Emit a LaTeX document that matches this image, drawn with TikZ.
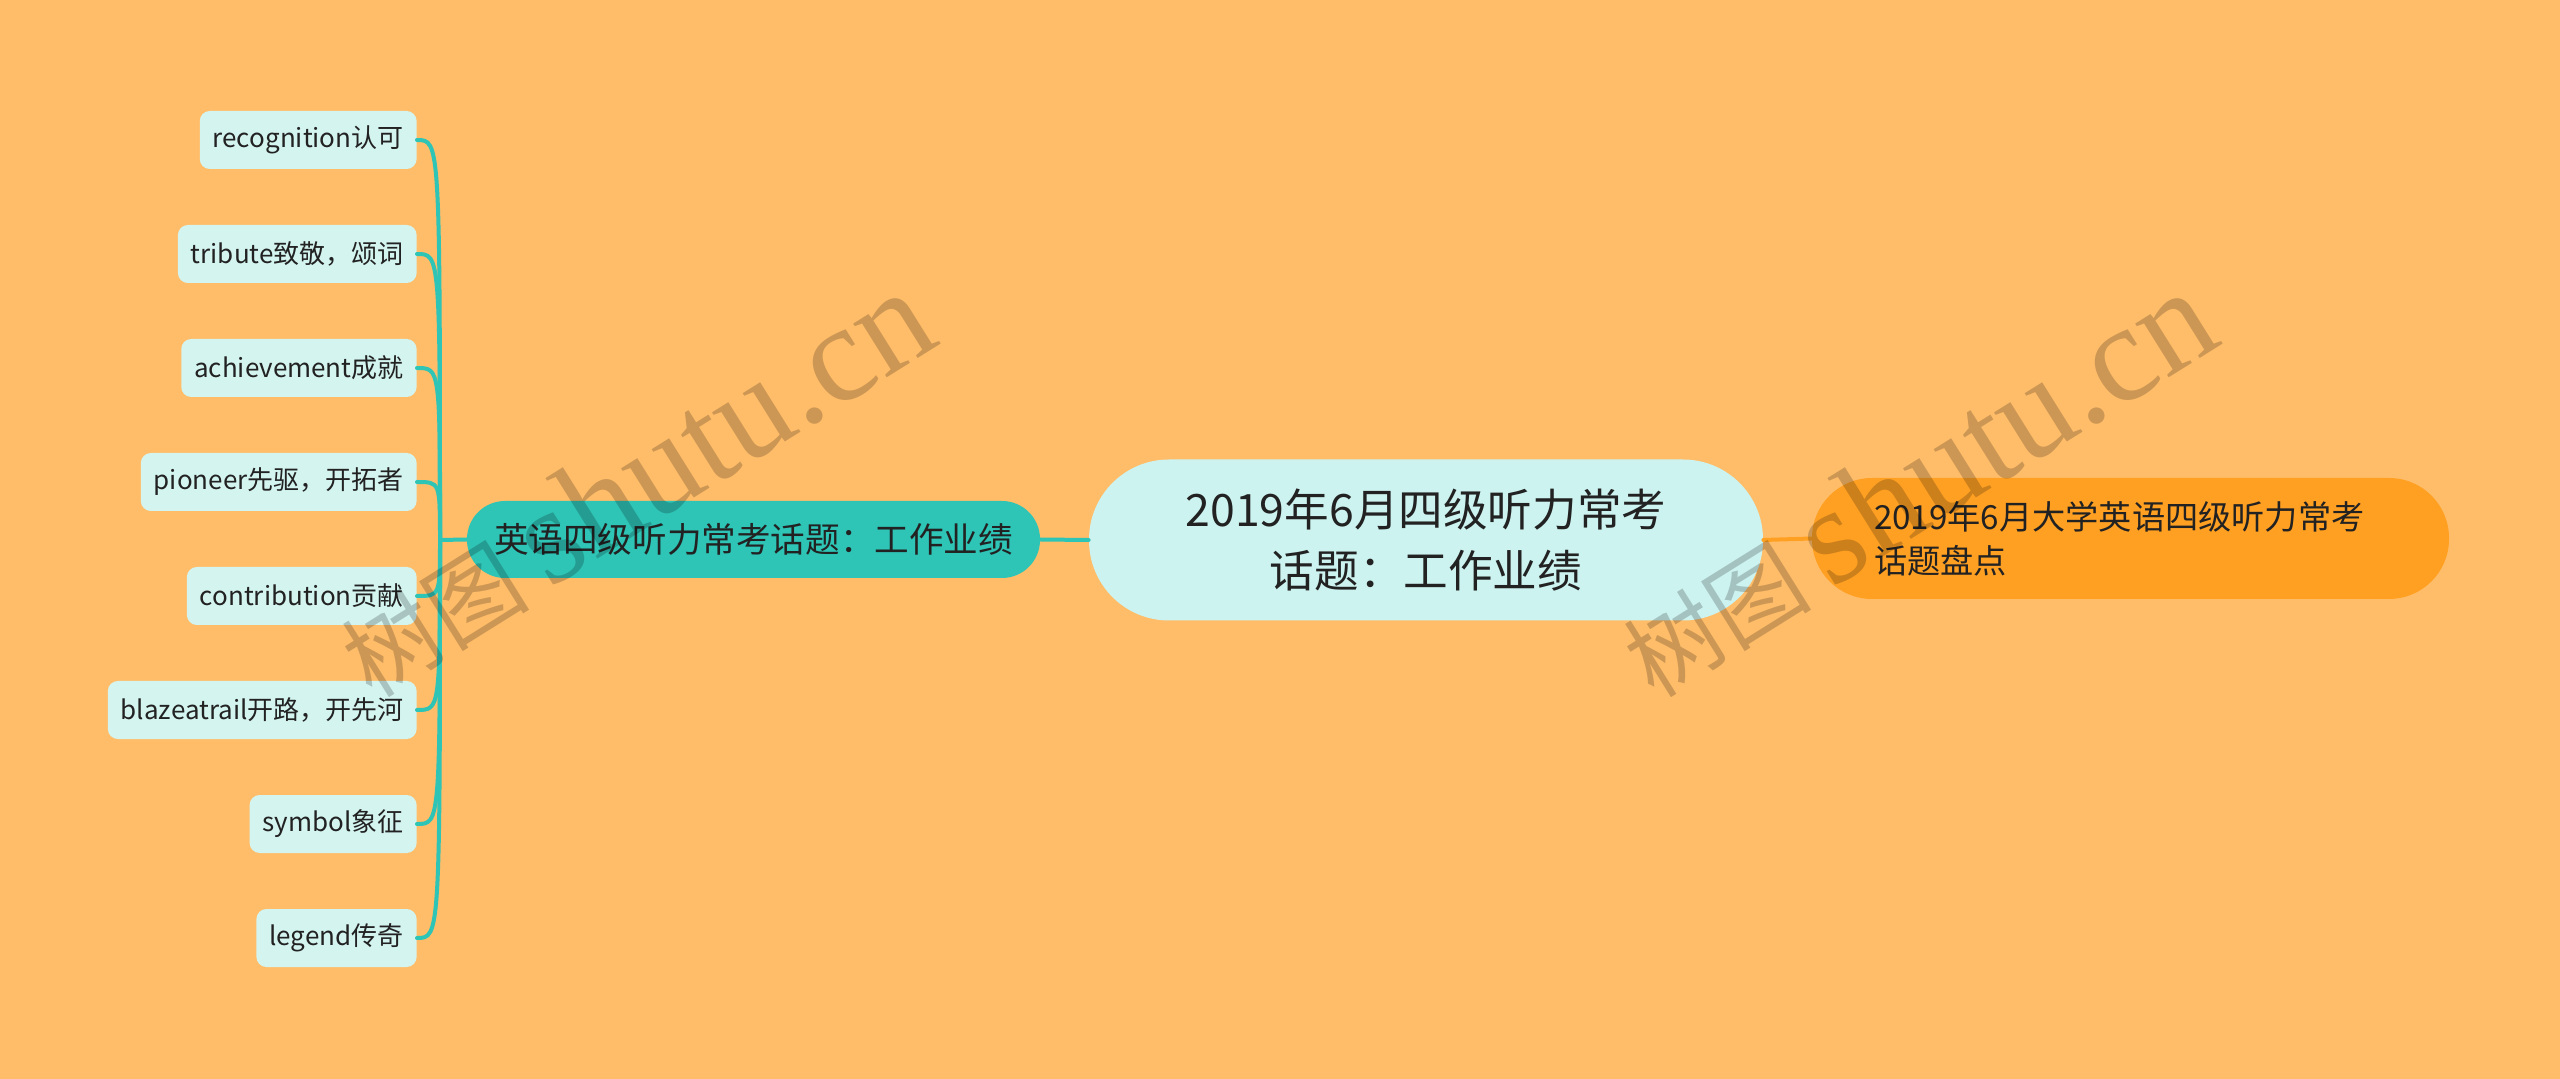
\documentclass[tikz,border=0pt]{standalone}
\usepackage{fontspec}
\setmainfont{Noto Sans CJK SC}
\newfontfamily\wmfont{Liberation Serif}
\definecolor{bgorange}{HTML}{FFBD69}
\definecolor{mmteal}{HTML}{2EC4B6}
\definecolor{leafcyan}{HTML}{D4F4F0}
\definecolor{rootcyan}{HTML}{CCF3F0}
\definecolor{suborange}{HTML}{FFA022}
\definecolor{textdark}{HTML}{222222}
\begin{document}
\begin{tikzpicture}[x=0.5pt,y=-0.5pt,line cap=round,line join=round,
	leaf/.style={fill=leafcyan,rounded corners=5pt,minimum height=29pt,inner xsep=6.5pt,inner ysep=0pt,text=textdark,font=\fontsize{13}{15}\selectfont},
	branch/.style={fill=mmteal,rounded corners=19pt,minimum width=286.5pt,minimum height=38.5pt,inner sep=0pt,text=textdark,font=\fontsize{17.3}{21}\selectfont},
	root/.style={fill=rootcyan,rounded corners=40pt,minimum width=337pt,minimum height=80.5pt,inner sep=0pt,align=center,text=textdark,font=\fontsize{22.3}{30.5}\selectfont},
	sub/.style={fill=suborange,rounded corners=30pt,minimum width=318.5pt,minimum height=60.5pt,inner xsep=31pt,inner ysep=0pt,text width=256.5pt,align=left,text=textdark,font=\fontsize{16.6}{22}\selectfont},
	tealline/.style={draw=mmteal,line width=2pt},
	orangeline/.style={draw=suborange,line width=2pt},
	watermark/.style={rotate=32,anchor=base west,text=black,text opacity=0.2,inner sep=0pt}]
	\def \trunkx{440}
	\fill[bgorange] (0,0) rectangle (2560,1079);
	\useasboundingbox (0,0) rectangle (2560,1079);
	% centre and the two main branches
	\node[root] (root) at (1426,540) {2019年6月四级听力常考\\话题：工作业绩};
	\node[branch] (work) at (753.5,539.5) {英语四级听力常考话题：工作业绩};
	\node[sub] (review) at (2130.5,538.5) {2019年6月大学英语四级听力常考\\话题盘点};
	\draw[tealline] (work.east) -- (root.west);
	\draw[orangeline] (root.east) -- (review.west);
	\coordinate (trunk) at (\trunkx,540);
	\draw[tealline] (work.west) -- (trunk);
	% words
	\foreach \t [count=\i] in {recognition认可,tribute致敬，颂词,achievement成就,pioneer先驱，开拓者,contribution贡献,blazeatrail开路，开先河,symbol象征,legend传奇}
	{
		\node[leaf,anchor=east] (word\i) at (417,{26+114*\i}) {\t};
		\draw[tealline] (trunk) .. controls (\trunkx,{26+114*\i}) .. (word\i.east);
	}
	% watermarks
	\node[watermark] (wmleft) at (372,700) {\fontsize{47}{47}\selectfont 树图 {\wmfont\fontsize{69}{69}\selectfont shutu.cn}};
	\node[watermark] (wmright) at (1654,700) {\fontsize{47}{47}\selectfont 树图 {\wmfont\fontsize{69}{69}\selectfont shutu.cn}};
\end{tikzpicture}
\end{document}
